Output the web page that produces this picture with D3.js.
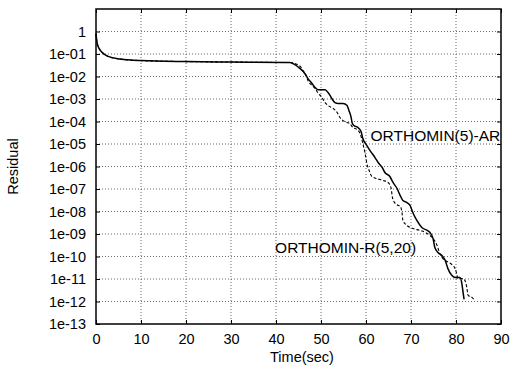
<!DOCTYPE html>
<meta charset="utf-8">
<script src="https://d3js.org/d3.v7.min.js"></script>
<style>
  body { margin: 0; background: #fff; }
  text { font-family: "Liberation Sans", Arial, sans-serif; fill: #000; }
</style>
<div id="chart"></div>
<script>
// data
const xTicks = [0, 10, 20, 30, 40, 50, 60, 70, 80, 90];
const yTicks = [1, 1e-1, 1e-2, 1e-3, 1e-4, 1e-5, 1e-6, 1e-7, 1e-8, 1e-9, 1e-10, 1e-11, 1e-12, 1e-13];
const yTickLabels = ["1", "1e-01", "1e-02", "1e-03", "1e-04", "1e-05", "1e-06",
  "1e-07", "1e-08", "1e-09", "1e-10", "1e-11", "1e-12", "1e-13"];

// ORTHOMIN(5)-AR (solid)
const arTime = [0, 0.22, 0.67, 1.33, 2.67, 5.33, 10, 20, 30, 42, 43.1, 44.2, 45.3, 46.4, 47.1, 48, 48.7,
  49.3, 50.9, 51.6, 52, 52.4, 53.1, 53.8, 54.9, 55.8, 56.2, 56.7, 56.9, 57.3, 58.2, 58.9, 59.3, 60.2,
  60.9, 62, 62.7, 63.6, 64.2, 65.3, 66, 66.9, 67.6, 68.2, 69.1, 69.8, 70.4, 71.3, 72.4, 73.6, 74.2,
  74.9, 75.3, 76, 76.9, 77.6, 78.2, 79.1, 79.8, 80.9, 81.3, 81.6, 81.8];
const arResid = [0.81, 0.33, 0.18, 0.12, 0.078, 0.060, 0.051, 0.046, 0.044, 0.042, 0.042, 0.034, 0.023,
  0.0136, 0.0081, 0.0049, 0.0032, 0.0026, 0.0026, 0.0019, 0.00144, 0.00105, 6.9e-4, 6.3e-4, 6.3e-4,
  5.1e-4, 3.1e-4, 1.5e-4, 9.1e-5, 6.7e-5, 5.4e-5, 3.6e-5, 1.75e-5, 8.5e-6, 5.1e-6, 2.5e-6, 1.5e-6,
  9.1e-7, 5.4e-7, 3.6e-7, 1.95e-7, 1.05e-7, 5.1e-8, 3.1e-8, 2.5e-8, 1.85e-8, 9.1e-9, 4.0e-9, 1.95e-9,
  1.44e-9, 1.17e-9, 6.3e-10, 2.5e-10, 1.5e-10, 1.1e-10, 6.7e-11, 2.9e-11, 1.44e-11, 1.17e-11,
  1.17e-11, 6.3e-12, 2.3e-12, 1.23e-12];

// ORTHOMIN-R(5,20) (dashed)
const rTime = [0, 0.22, 0.67, 1.33, 2.67, 5.33, 10, 20, 30, 42, 43.1, 44.7, 45.6, 46, 46.7, 47.1, 48,
  48.7, 49.3, 50.2, 50.9, 51.6, 52.7, 53.6, 54.2, 54.9, 55.8, 56.4, 57.1, 58, 58.7, 59.3, 59.8, 60.2,
  60.7, 61.3, 62.4, 63.8, 64.9, 65.6, 65.8, 66.2, 66.9, 67.6, 68, 68.2, 69.1, 70.4, 72, 73.6, 74.9,
  75.8, 76.4, 77.1, 78, 79.1, 79.8, 80.2, 80.4, 81.3, 82, 82.4, 82.7, 83.6, 84];
const rResid = [0.81, 0.33, 0.18, 0.12, 0.078, 0.060, 0.051, 0.046, 0.044, 0.042, 0.042, 0.034, 0.025,
  0.0185, 0.011, 0.0066, 0.004, 0.0029, 0.0019, 0.00117, 6.9e-4, 5.1e-4, 3.8e-4, 2.5e-4, 1.5e-4,
  1.1e-4, 9.1e-5, 8.1e-5, 5.4e-5, 4.4e-5, 2.9e-5, 1.05e-5, 3.8e-6, 1.36e-6, 6.6e-7, 3.6e-7, 2.9e-7,
  2.4e-7, 1.95e-7, 1.05e-7, 5.1e-8, 2.8e-8, 2.0e-8, 1.67e-8, 9.1e-9, 4.0e-9, 2.4e-9, 1.75e-9, 1.44e-9,
  1.05e-9, 6.3e-10, 3.1e-10, 1.36e-10, 8.1e-11, 6.0e-11, 4.4e-11, 2.9e-11, 1.58e-11, 1.05e-11,
  1.05e-11, 8.5e-12, 4.2e-12, 1.86e-12, 1.5e-12, 1.23e-12];

const W = 513, H = 366;
const margin = {top: 9, right: 12, bottom: 42, left: 96};
const width = W - margin.left - margin.right,
      height = H - margin.top - margin.bottom;

const svg = d3.select("#chart").append("svg")
    .attr("width", W).attr("height", H);
const g = svg.append("g")
    .attr("transform", `translate(${margin.left},${margin.top})`);

const x = d3.scaleLinear().domain([0, 90]).range([0, width]);
const y = d3.scaleLog().domain([1e-13, 10]).range([height, 0]);

// dotted grid
g.append("g").selectAll("line").data(xTicks.slice(1, -1)).join("line")
    .attr("x1", d => x(d)).attr("x2", d => x(d))
    .attr("y1", 0).attr("y2", height)
    .attr("stroke", "#444").attr("stroke-width", 0.8).attr("stroke-dasharray", "1,2");
g.append("g").selectAll("line").data(yTicks.slice(0, -1)).join("line")
    .attr("x1", 0).attr("x2", width)
    .attr("y1", d => y(d)).attr("y2", d => y(d))
    .attr("stroke", "#444").attr("stroke-width", 0.8).attr("stroke-dasharray", "1,2");

// axes with inward ticks
const fmtY = d => yTickLabels[yTicks.indexOf(d)];
g.append("g").attr("transform", `translate(0,${height})`)
    .call(d3.axisBottom(x).tickValues(xTicks).tickSize(-4).tickPadding(10))
    .call(a => a.select(".domain").remove())
    .call(a => a.selectAll("text").style("font-size", "14.5px"));
g.append("g")
    .call(d3.axisLeft(y).tickValues(yTicks).tickFormat(fmtY).tickSize(-4).tickPadding(10))
    .call(a => a.select(".domain").remove())
    .call(a => a.selectAll("text").style("font-size", "14.5px"));
g.append("g")
    .call(d3.axisTop(x).tickValues(xTicks).tickSize(-4).tickFormat(""))
    .call(a => a.select(".domain").remove());
g.append("g").attr("transform", `translate(${width},0)`)
    .call(d3.axisRight(y).tickValues(yTicks).tickSize(-4).tickFormat(""))
    .call(a => a.select(".domain").remove());

// frame
g.append("rect").attr("width", width).attr("height", height)
    .attr("fill", "none").attr("stroke", "#000").attr("stroke-width", 1.5);

const line = d3.line()
    .x(d => x(d[0])).y(d => y(d[1]))
    .curve(d3.curveMonotoneX);

g.append("path").datum(d3.zip(rTime, rResid))
    .attr("d", line).attr("fill", "none")
    .attr("stroke", "#000").attr("stroke-width", 1.1).attr("stroke-dasharray", "3,2");
g.append("path").datum(d3.zip(arTime, arResid))
    .attr("d", line).attr("fill", "none")
    .attr("stroke", "#000").attr("stroke-width", 1.5);

// series labels
g.append("text").attr("x", x(61)).attr("y", y(1e-5) - 3.5)
    .style("font-size", "15.5px").text("ORTHOMIN(5)-AR");
g.append("text").attr("x", x(39.8)).attr("y", y(1e-10) - 4)
    .style("font-size", "15.5px").text("ORTHOMIN-R(5,20)");

// axis titles
svg.append("text")
    .attr("transform", `translate(18,${margin.top + height / 2}) rotate(-90)`)
    .attr("text-anchor", "middle")
    .style("font-size", "14.5px").text("Residual");
svg.append("text")
    .attr("x", 302).attr("y", 362)
    .attr("text-anchor", "middle")
    .style("font-size", "14.5px").text("Time(sec)");
</script>
